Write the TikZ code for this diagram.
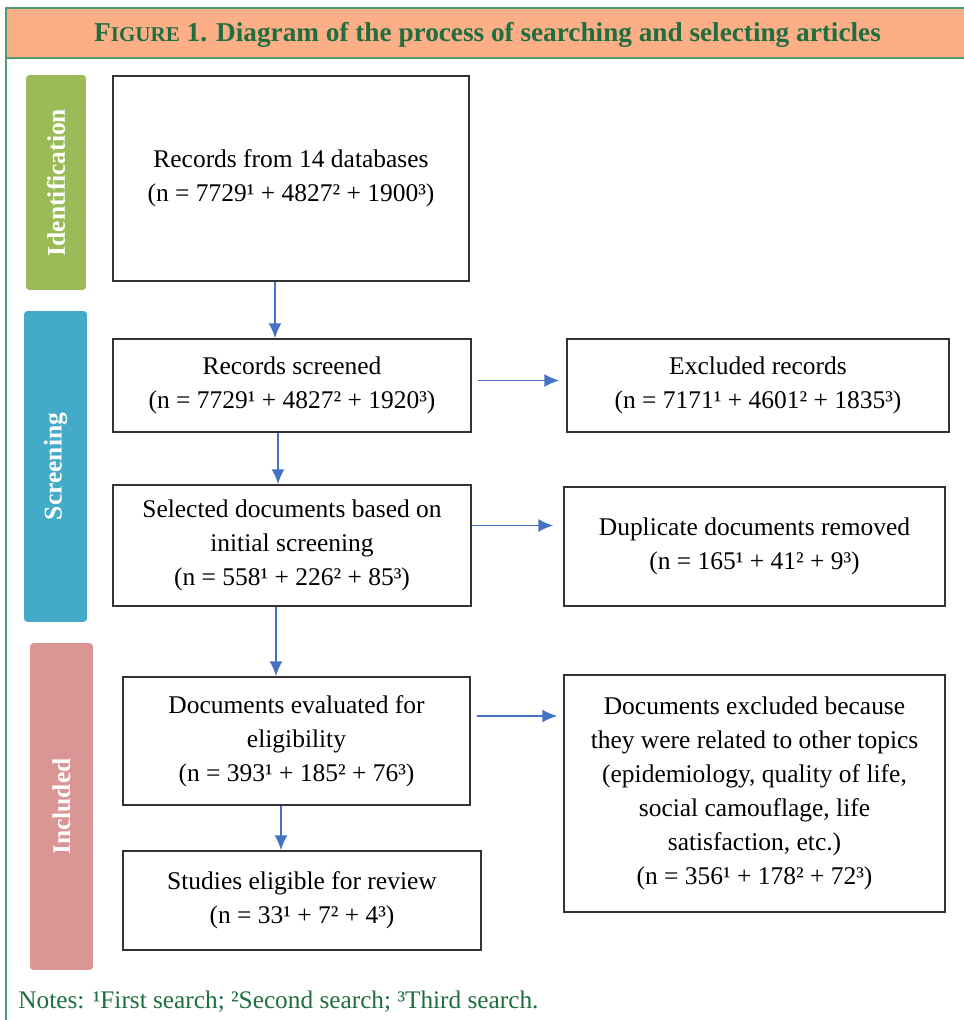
\documentclass[tikz,border=0pt]{standalone}
\usepackage{fontspec}
\setmainfont{Liberation Serif}
\usepackage{tikz}
\usetikzlibrary{arrows.meta}

\definecolor{headfill}{RGB}{252,174,135}
\definecolor{headgreen}{RGB}{30,110,62}
\definecolor{framegreen}{RGB}{80,155,110}
\definecolor{flowblue}{RGB}{68,114,196}
\definecolor{idgreen}{RGB}{155,187,89}
\definecolor{scrblue}{RGB}{67,170,200}
\definecolor{incpink}{RGB}{217,150,148}

\tikzset{
  stagebox/.style={draw=black!80,line width=0.8pt,align=center,inner sep=0pt,
    font=\fontsize{14.5}{19.3}\selectfont},
  phasebar/.style={rounded corners=2pt,rotate=90,text=white,inner sep=0pt,
    font=\fontsize{14.5}{17}\selectfont\bfseries},
  flow/.style={flowblue,line width=1.1pt,-{Latex[length=3mm,width=2.6mm]}}
}

\begin{document}
\begin{tikzpicture}[x=0.02cm,y=-0.02cm]
\useasboundingbox (0,0) rectangle (963,1020);

% frame and heading
\draw[framegreen,line width=1pt] (6,58) -- (6,1020);
\draw[framegreen,fill=headfill,line width=1pt] (6,8) rectangle (966,58);
\node[headgreen,font=\fontsize{15.5}{18}\selectfont\bfseries] (title) at (487.5,35)
  {F{\fontsize{12}{14}\selectfont IGURE} 1. Diagram of the process of searching and selecting articles};

% phases
\node[phasebar,fill=idgreen,minimum width=4.3cm,minimum height=1.2cm] (ident) at (56,182.5) {Identification};
\node[phasebar,fill=scrblue,minimum width=6.22cm,minimum height=1.26cm] (screen) at (55.5,466.5) {Screening};
\node[phasebar,fill=incpink,minimum width=6.54cm,minimum height=1.26cm] (incl) at (61.5,806.5) {Included};

% boxes
\node[stagebox,minimum width=7.12cm,minimum height=4.1cm] (records) at (291,178.5)
  {Records from 14 databases\\(n = 7729¹ + 4827² + 1900³)};
\node[stagebox,minimum width=7.16cm,minimum height=1.86cm] (screened) at (292,385.5)
  {Records screened\\(n = 7729¹ + 4827² + 1920³)};
\node[stagebox,minimum width=7.64cm,minimum height=1.86cm] (excluded) at (758,385.5)
  {Excluded records\\(n = 7171¹ + 4601² + 1835³)};
\node[stagebox,minimum width=7.16cm,minimum height=2.42cm] (selected) at (292,545.5)
  {Selected documents based on\\initial screening\\(n = 558¹ + 226² + 85³)};
\node[stagebox,minimum width=7.62cm,minimum height=2.38cm] (dupl) at (754.5,546.5)
  {Duplicate documents removed\\(n = 165¹ + 41² + 9³)};
\node[stagebox,minimum width=6.94cm,minimum height=2.56cm] (evaluated) at (296.5,741)
  {Documents evaluated for\\eligibility\\(n = 393¹ + 185² + 76³)};
\node[stagebox,minimum width=7.62cm,minimum height=4.74cm] (other) at (754.5,793.5)
  {Documents excluded because\\they were related to other topics\\(epidemiology, quality of life,\\social camouflage, life\\satisfaction, etc.)\\(n = 356¹ + 178² + 72³)};
\node[stagebox,minimum width=7.16cm,minimum height=1.98cm] (eligible) at (302,900.5)
  {Studies eligible for review\\(n = 33¹ + 7² + 4³)};

% arrows
\draw[flow] ([xshift=-0.32cm]records.south) -- ([xshift=-0.32cm]records.south |- screened.north);
\draw[flow] ([xshift=-0.28cm]screened.south) -- ([xshift=-0.28cm]screened.south |- selected.north);
\draw[flow] ([xshift=-0.32cm]selected.south) -- ([xshift=-0.32cm]selected.south |- evaluated.north);
\draw[flow] ([xshift=-0.31cm]evaluated.south) -- ([xshift=-0.31cm]evaluated.south |- eligible.north);
\draw[flow,shorten <=0.12cm,shorten >=0.14cm] ([yshift=0.1cm]screened.east) -- ([yshift=0.1cm]screened.east -| excluded.west);
\draw[flow,shorten >=0.2cm] ([yshift=0.4cm]selected.east) -- ([yshift=0.4cm]selected.east -| dupl.west);
\draw[flow,shorten <=0.12cm,shorten >=0.12cm] ([yshift=0.5cm]evaluated.east) -- ([yshift=0.5cm]evaluated.east -| other.west);

% notes
\node[anchor=base west,inner sep=0pt,text=headgreen,font=\fontsize{14.4}{16}\selectfont] (notes) at (18,1008)
  {Notes: ¹First search; ²Second search; ³Third search.};
\end{tikzpicture}
\end{document}
